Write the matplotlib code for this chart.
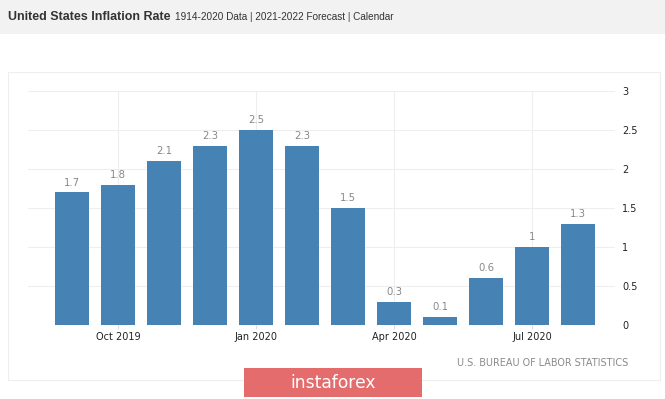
import matplotlib
matplotlib.use("Agg")
import matplotlib.pyplot as plt
from matplotlib.patches import Rectangle

months = ["Sep 2019", "Oct 2019", "Nov 2019", "Dec 2019", "Jan 2020", "Feb 2020",
          "Mar 2020", "Apr 2020", "May 2020", "Jun 2020", "Jul 2020", "Aug 2020"]
values = [1.7, 1.8, 2.1, 2.3, 2.5, 2.3, 1.5, 0.3, 0.1, 0.6, 1.0, 1.3]
value_labels = ["1.7", "1.8", "2.1", "2.3", "2.5", "2.3", "1.5", "0.3", "0.1", "0.6", "1", "1.3"]
xtick_labels = ["Oct 2019", "Jan 2020", "Apr 2020", "Jul 2020"]
ytick_values = [0, 0.5, 1, 1.5, 2, 2.5, 3]
ytick_labels = ["0", "0.5", "1", "1.5", "2", "2.5", "3"]

W, H = 665, 399
fig = plt.figure(figsize=(W / 100, H / 100), dpi=100)
fig.patch.set_facecolor("white")

# header band
fig.patches.append(Rectangle((0, 1 - 34 / H), 1, 34 / H, transform=fig.transFigure,
                             facecolor="#f2f2f2", edgecolor="none", zorder=-2))
fig.text(8 / W, 1 - 17 / H, "United States Inflation Rate", family="Liberation Sans",
         fontweight="bold", fontsize=9.0, color="#333333", va="center", ha="left")
fig.text(175 / W, 1 - 17 / H, "1914-2020 Data | 2021-2022 Forecast | Calendar",
         family="Liberation Sans", fontsize=7.2, color="#333333", va="center", ha="left")

# chart panel border
fig.patches.append(Rectangle((8 / W, 1 - 380 / H), 652 / W, 308 / H, transform=fig.transFigure,
                             facecolor="white", edgecolor="#eeeeee", linewidth=0.8, zorder=-1))

ax = fig.add_axes([28 / W, 1 - 325 / H, (615 - 28) / W, (325 - 91) / H])
ax.set_zorder(1)
ax.set_facecolor("none")
x = list(range(len(values)))
ax.bar(x, values, width=0.75, color="#4682b4", zorder=3)
for xi, v, lab in zip(x, values, value_labels):
    ax.annotate(lab, (xi, v), xytext=(0, 3.5), textcoords="offset points", ha="center",
                va="bottom", fontsize=7.3, color="#888888", family="DejaVu Sans")

ax.set_xlim(-0.96, 11.8)
ax.set_ylim(0, 3)
tick_pos = [months.index(m) for m in xtick_labels]
ax.set_xticks(tick_pos)
ax.set_xticklabels(xtick_labels, fontsize=7, color="#222222", family="DejaVu Sans")
ax.set_yticks(ytick_values)
ax.set_yticklabels(ytick_labels, fontsize=7, color="#222222", family="DejaVu Sans")
ax.yaxis.tick_right()
ax.tick_params(axis="y", length=0, pad=5)
ax.tick_params(axis="x", length=3, color="#dddddd", pad=2)
ax.grid(True, color="#eeeeee", linewidth=0.8, zorder=0)
for s in ax.spines.values():
    s.set_visible(False)

fig.text(628 / W, 1 - 363 / H, "U.S. BUREAU OF LABOR STATISTICS", fontsize=6.9,
         color="#8a8a8a", ha="right", va="center", family="DejaVu Sans")

# watermark badge
fig.patches.append(Rectangle((244 / W, 1 - 397 / H), 178 / W, 29 / H, transform=fig.transFigure,
                             facecolor="#e46c6c", edgecolor="none", zorder=5))
fig.text(333 / W, 1 - 383 / H, "instaforex", fontsize=12.3, color="white", ha="center",
         va="center", family="DejaVu Sans", zorder=6)

fig.savefig("out.png", dpi=100)
